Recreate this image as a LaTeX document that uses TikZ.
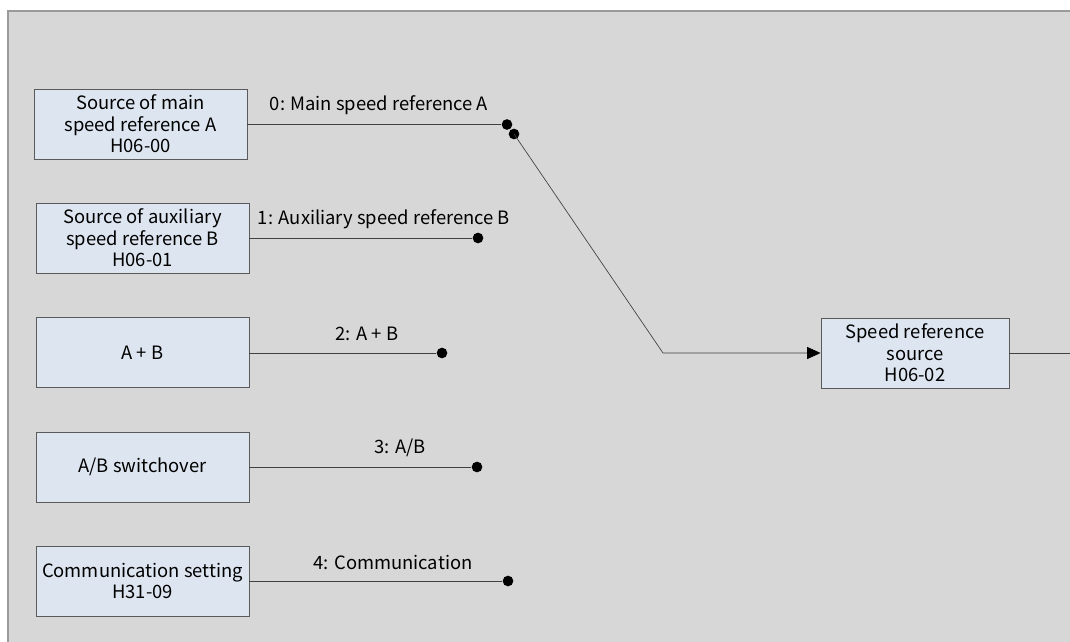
\documentclass[tikz,border=0pt]{standalone}
\usepackage{fontspec}
\setmainfont{Noto Sans CJK SC}
\usetikzlibrary{arrows.meta}
\definecolor{bggray}{HTML}{D7D7D7}
\definecolor{framegray}{HTML}{9A9A9A}
\definecolor{boxfill}{HTML}{DDE5F0}
\definecolor{boxline}{HTML}{5A5A5A}
\definecolor{wire}{HTML}{404040}
\begin{document}
\begin{tikzpicture}[x=0.75pt,y=-0.75pt,
  srcbox/.style={draw=boxline,fill=boxfill,line width=0.7pt,minimum width=159.75pt,minimum height=52.5pt,align=center,inner sep=1pt,font=\fontsize{13.8}{16}\selectfont},
  dstbox/.style={srcbox,minimum width=141pt},
  dotnode/.style={circle,fill=black,inner sep=0pt,minimum size=8pt},
  wireline/.style={draw=wire,line width=0.5pt},
  lbl/.style={font=\fontsize{13.8}{16}\selectfont,inner sep=1pt}]
\useasboundingbox (0,0) rectangle (1070,642);
\fill[white] (0,0) rectangle (1070,642);
\begin{scope}
\clip (0,0) rectangle (1070,642);
\draw[fill=bggray,draw=framegray,line width=0.8pt] (8,11) rectangle (1080,660);
\end{scope}
% boxes
\node[srcbox] (b1) at (140.5,124) {Source of main\\speed reference A\\H06-00};
\node[srcbox] (b2) at (142.5,238) {Source of auxiliary\\speed reference B\\H06-01};
\node[srcbox] (b3) at (142.5,352.5) {A + B};
\node[srcbox] (b4) at (142.5,467) {A/B switchover};
\node[srcbox] (b5) at (142.5,581) {Communication setting\\H31-09};
\node[dstbox] (b6) at (915,353) {Speed reference\\source\\H06-02};
% dots
\node[dotnode] (d0) at (507,124.5) {};
\node[dotnode] (d0b) at (514,134) {};
\node[dotnode] (d1) at (478,238) {};
\node[dotnode] (d2) at (442,353) {};
\node[dotnode] (d3) at (477,467) {};
\node[dotnode] (d4) at (508,581) {};
\coordinate (bend) at (663,353);
\coordinate (out) at (1080,353);
% wires
\draw[wireline] (b1.east |- d0) -- (d0);
\draw[wireline] (b2.east |- d1) -- (d1);
\draw[wireline] (b3.east |- d2) -- (d2);
\draw[wireline] (b4.east |- d3) -- (d3);
\draw[wireline] (b5.east |- d4) -- (d4);
\draw[wireline,-{Triangle[length=10pt,width=9pt,fill=black,color=black]}] (d0b.center) -- (bend) -- (b6.west);
\draw[wireline] (b6.east) -- (out);
% labels
\node[lbl] (l0) at (379,105) {0: Main speed reference A};
\node[lbl] (l1) at (384,219) {1: Auxiliary speed reference B};
\node[lbl] (l2) at (367,334) {2: A + B};
\node[lbl] (l3) at (400,448) {3: A/B};
\node[lbl] (l4) at (393,562) {4: Communication};
\end{tikzpicture}
\end{document}
